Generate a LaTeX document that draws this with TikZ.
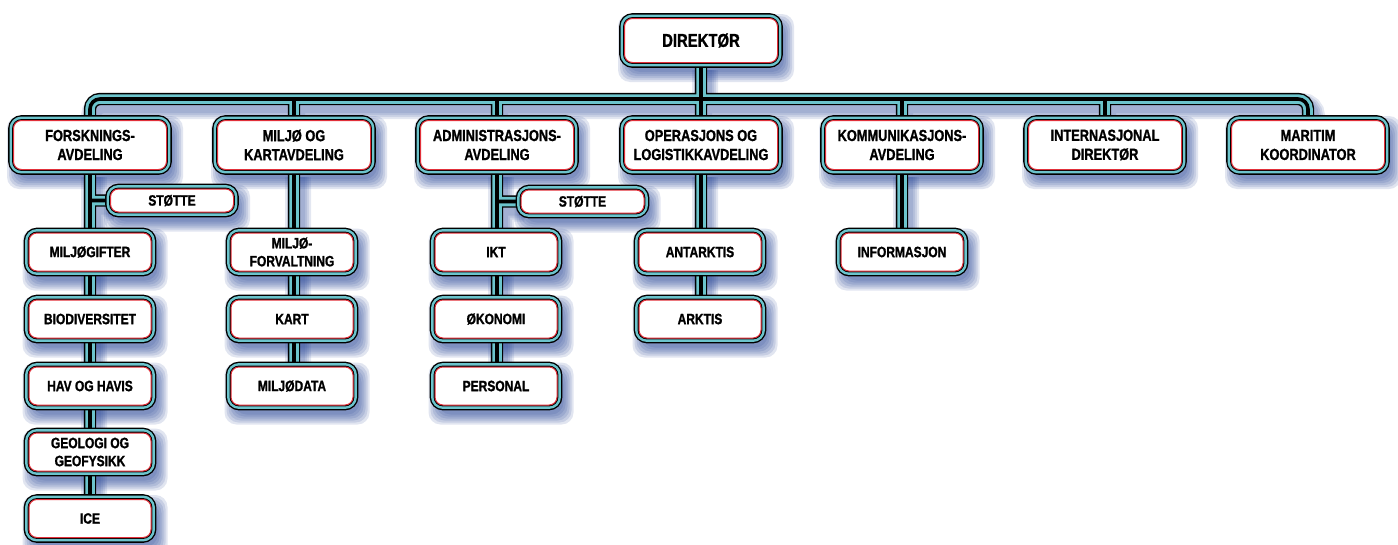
\documentclass[tikz,border=0pt]{standalone}
\usepackage{fontspec}
\setmainfont[FakeStretch=0.8, BoldFeatures={FakeBold=1.2}]{Liberation Sans}
\usetikzlibrary{calc}
\definecolor{tealband}{RGB}{108,196,204}
\definecolor{boxred}{RGB}{226,48,58}
\definecolor{shcol}{RGB}{40,70,150}
\pgfdeclarelayer{shadowlayer}
\pgfdeclarelayer{connlayer}
\pgfsetlayers{shadowlayer,connlayer,main}
\tikzset{
  orgbox/.style={rectangle, rounded corners=8pt, fill=white, draw=boxred, line width=1pt,
    align=center, inner sep=0pt, text=black,
    preaction={draw=black, line width=10.6pt},
    preaction={draw=tealband, line width=7.8pt},
    preaction={draw=black, line width=2.8pt}},
  topbox/.style={orgbox, minimum width=153pt, minimum height=44pt, font=\fontsize{18.6}{22}\selectfont\bfseries},
  deptbox/.style={orgbox, minimum width=153pt, minimum height=49pt, font=\fontsize{16}{19}\selectfont\bfseries},
  unitbox/.style={orgbox, minimum width=122pt, minimum height=38pt, font=\fontsize{15}{18}\selectfont\bfseries},
  supportbox/.style={orgbox, minimum width=123pt, minimum height=23pt, font=\fontsize{15}{18}\selectfont\bfseries},
  connouter/.style={draw=black, line width=12.3pt, rounded corners=10pt},
  connband/.style={draw=tealband, line width=9.5pt, rounded corners=10pt},
  conncore/.style={draw=black, line width=3.6pt, rounded corners=10pt},
  connshadow/.style={draw=shcol, opacity=0.13, rounded corners=10pt},
  boxshadow/.style={fill=shcol, opacity=0.14, rounded corners=12pt}
}
\newcommand\orgconn{%
  (forsk.north) -- (forsk.north |- busy) -- (maritim.north |- busy) -- (maritim.north)
  (miljo.north) -- (miljo.north |- busy)
  (admin.north) -- (admin.north |- busy)
  (komm.north) -- (komm.north |- busy)
  (intern.north) -- (intern.north |- busy)
  (dir.south) -- (oper.north)
  (forsk.south) -- (forsk.south |- ice.north)
  (forsk.south |- stotteA.west) -- (stotteA.west)
  (miljo.south) -- (miljo.south |- miljodata.north)
  (admin.south) -- (admin.south |- personal.north)
  (admin.south |- stotteB.west) -- (stotteB.west)
  (oper.south) -- (oper.south |- arktis.north)
  (komm.south) -- (komm.south |- info.north)
}
\begin{document}
\begin{tikzpicture}[x=1pt,y=-1pt]
\useasboundingbox (0,0) rectangle (1398,544);
\coordinate (busy) at (701,99);
% top
\node[topbox] (dir) at (701,40.5) {DIREKTØR};
% departments
\node[deptbox] (forsk) at (90,145) {FORSKNINGS-\\AVDELING};
\node[deptbox] (miljo) at (294,145) {MILJØ OG\\KARTAVDELING};
\node[deptbox] (admin) at (497,145) {ADMINISTRASJONS-\\AVDELING};
\node[deptbox] (oper) at (701,145) {OPERASJONS OG\\LOGISTIKKAVDELING};
\node[deptbox] (komm) at (902,145) {KOMMUNIKASJONS-\\AVDELING};
\node[deptbox] (intern) at (1105,145) {INTERNASJONAL\\DIREKTØR};
\node[deptbox] (maritim) at (1308,145) {MARITIM\\KOORDINATOR};
% support
\node[supportbox] (stotteA) at (172,200.5) {STØTTE};
\node[supportbox] (stotteB) at (582.5,201.5) {STØTTE};
% units
\node[unitbox] (miljogift) at (90,252) {MILJØGIFTER};
\node[unitbox] (biodiv) at (90,319) {BIODIVERSITET};
\node[unitbox] (hav) at (90,386) {HAV OG HAVIS};
\node[unitbox] (geologi) at (90,452) {GEOLOGI OG\\GEOFYSIKK};
\node[unitbox] (ice) at (90,518.5) {ICE};
\node[unitbox] (forvalt) at (292,252) {MILJØ-\\FORVALTNING};
\node[unitbox] (kart) at (292,319) {KART};
\node[unitbox] (miljodata) at (292,386) {MILJØDATA};
\node[unitbox] (ikt) at (496,252) {IKT};
\node[unitbox] (okonomi) at (496,319) {ØKONOMI};
\node[unitbox] (personal) at (496,386) {PERSONAL};
\node[unitbox] (antarktis) at (700,252) {ANTARKTIS};
\node[unitbox] (arktis) at (700,319) {ARKTIS};
\node[unitbox] (info) at (902,252) {INFORMASJON};
% connectors
\begin{pgfonlayer}{connlayer}
\draw[connouter] \orgconn;
\draw[connband] \orgconn;
\draw[conncore] \orgconn;
\end{pgfonlayer}
% shadows
\begin{pgfonlayer}{shadowlayer}
\begin{scope}[transform canvas={xshift=4pt,yshift=-7pt}]
\foreach \w in {26,22,18,14}{\draw[connshadow, line width=\w pt] \orgconn;}
\end{scope}
\foreach \n in {dir,forsk,miljo,admin,oper,komm,intern,maritim,stotteA,stotteB,miljogift,biodiv,hav,geologi,ice,forvalt,kart,miljodata,ikt,okonomi,personal,antarktis,arktis,info}{
  \foreach \e in {11,9,7,5,3,1}{
    \fill[boxshadow] ($(\n.north west)+(5-\e,7-\e)$) rectangle ($(\n.south east)+(5+\e,8+\e)$);
  }
}
\end{pgfonlayer}
\end{tikzpicture}
\end{document}
